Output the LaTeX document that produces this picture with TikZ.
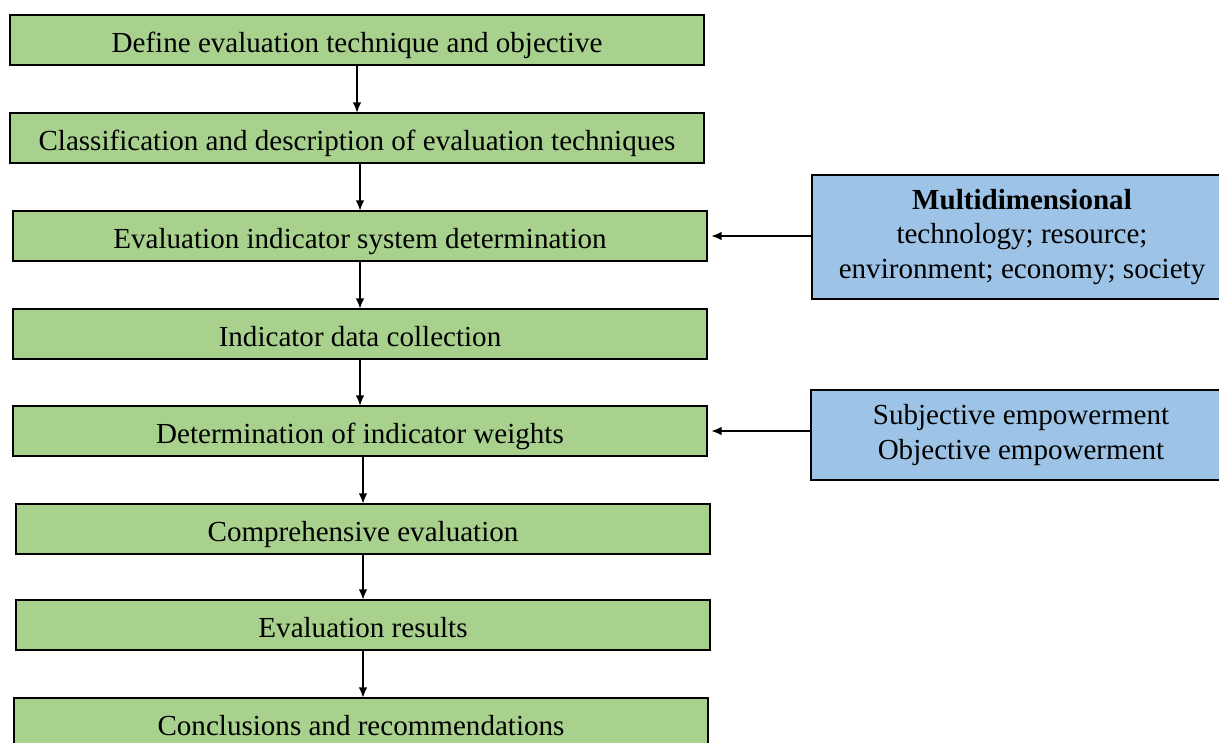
\documentclass[tikz,border=0pt]{standalone}
\usepackage{fontspec}
\setmainfont{Liberation Serif}
\usetikzlibrary{positioning,arrows.meta}
\definecolor{stepgreen}{HTML}{A9D18E}
\definecolor{sideblue}{HTML}{9DC3E6}
\tikzset{
  block/.style={
    draw,
    rectangle,
    fill=stepgreen,
    line width=1.5pt,
    outer sep=0pt,
    minimum height=37.5pt,
    minimum width=520.5pt,
    inner sep=0pt,
    text height=19pt,
    text depth=0pt,
    align=center,
    font=\fontsize{21.8}{26}\selectfont
  },
  sideblock/.style={
    draw,
    rectangle,
    fill=sideblue,
    line width=1.5pt,
    outer sep=0pt,
    minimum width=315pt,
    inner sep=0pt,
    align=center,
    font=\fontsize{21.8}{26}\selectfont
  },
  line/.style={->,>={Latex[length=8pt,width=6.5pt]},line width=1.5pt}
}

\begin{document}
\begin{tikzpicture}[x=0.75pt,y=-0.75pt]

				\useasboundingbox (0,0) rectangle (1219,742);

				\node[block] (a) at (357,40) {Define evaluation technique and objective};
				\node[block, below = 36pt of a] (b) {Classification and description of evaluation techniques};
				\node[block, below = 36pt of b, xshift=2.25pt] (c) {Evaluation indicator system determination};
				\node[block, below = 36pt of c] (d) {Indicator data collection};
				\node[block, below = 35.25pt of d] (e) {Determination of indicator weights};
				\node[block, below = 36pt of e, xshift=2.25pt] (f) {Comprehensive evaluation};
				\node[block, below = 34.5pt of f] (g) {Evaluation results};
				\node[block, below = 36pt of g, xshift=-1.5pt] (h) {Conclusions and recommendations};

				\draw[line] (a.south) -- (b.north) ;
				\draw[line] (b.south -| c) -- (c.north) ;
				\draw[line] (c.south) -- (d.north) ;
				\draw[line] (d.south) -- (e.north) ;
				\draw[line] (e.south -| f) -- (f.north) ;
				\draw[line] (f.south) -- (g.north) ;
				\draw[line] (g.south) -- (h.north -| g) ;

				\node[sideblock, minimum height=93pt, right = 78.75pt of c, yshift=-0.75pt] (m) {\textbf{Multidimensional}\\technology; resource;\\environment; economy; society};
				\node[sideblock, minimum height=67pt, right = 78pt of e, yshift=-3pt] (w) {Subjective empowerment\\Objective empowerment};

				\draw[line, shorten >=3pt] (m.west |- c.east) -- (c.east) ;
				\draw[line, shorten >=3pt] (w.west |- e.east) -- (e.east) ;

\end{tikzpicture}
\end{document}
